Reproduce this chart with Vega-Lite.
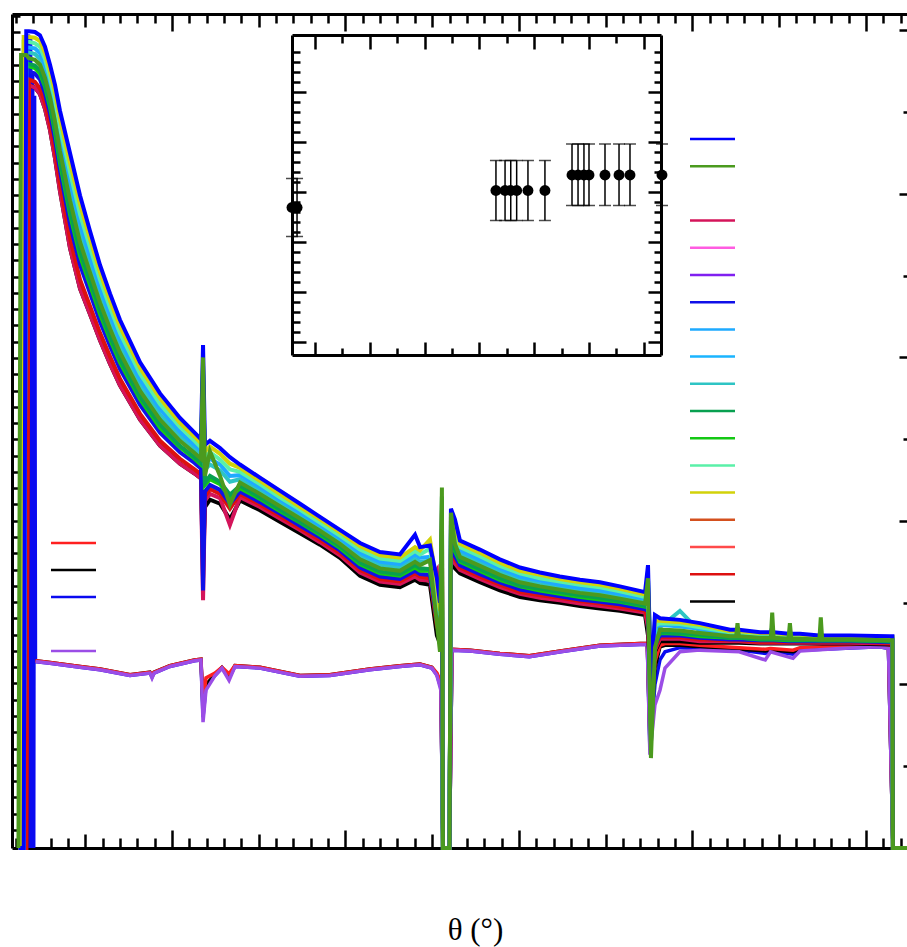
{
  "$schema": "https://vega.github.io/schema/vega-lite/v6.json",
  "width": 895,
  "height": 834,
  "autosize": "none",
  "padding": {"left": 12, "top": 14, "right": 0, "bottom": 99},
  "background": "white",
  "config": {
    "view": {"stroke": null},
    "axis": {"labels": false, "grid": false, "domainColor": "#000000", "domainWidth": 3, "tickColor": "#000000", "tickWidth": 2.5}
  },
  "datasets": {
    "main": [
      {"t":1.15,"c01":0,"c13":0,"c12":0,"c07":0,"c09":0,"c02":0,"c10":0,"c11":0,"c06":0,"c16":0,"c03":0,"c17":0},
      {"t":1.30,"c01":0,"c13":0,"c12":0,"c07":0,"c09":0,"c02":9.70,"c10":0,"c11":0,"c06":0,"c16":0,"c03":0,"c17":0},
      {"t":1.45,"c01":0,"c13":9.92,"c12":9.86,"c07":0,"c09":0,"c02":9.70,"c10":9.59,"c11":9.56,"c06":0,"c16":0,"c03":0,"c17":0},
      {"t":1.60,"c01":9.99,"c13":9.92,"c12":9.86,"c07":9.79,"c09":9.73,"c02":9.70,"c10":9.59,"c11":9.56,"c06":9.50,"c16":0,"c03":0,"c17":0},
      {"t":1.75,"c01":9.99,"c13":9.92,"c12":9.86,"c07":9.79,"c09":9.73,"c02":9.66,"c10":9.59,"c11":9.56,"c06":9.50,"c16":9.40,"c03":9.33,"c17":9.33},
      {"t":2.10,"c01":9.98,"c13":9.91,"c12":9.84,"c07":9.78,"c09":9.71,"c02":9.64,"c10":9.57,"c11":9.54,"c06":9.47,"c16":9.37,"c03":9.30,"c17":9.30},
      {"t":2.39,"c01":9.94,"c13":9.87,"c12":9.80,"c07":9.72,"c09":9.65,"c02":9.58,"c10":9.51,"c11":9.47,"c06":9.40,"c16":9.29,"c03":9.22,"c17":9.22},
      {"t":2.68,"c01":9.80,"c13":9.72,"c12":9.65,"c07":9.57,"c09":9.50,"c02":9.42,"c10":9.34,"c11":9.31,"c06":9.23,"c16":9.12,"c03":9.04,"c17":9.04},
      {"t":2.97,"c01":9.58,"c13":9.50,"c12":9.42,"c07":9.34,"c09":9.26,"c02":9.18,"c10":9.10,"c11":9.06,"c06":8.98,"c16":8.86,"c03":8.78,"c17":8.78},
      {"t":3.26,"c01":9.33,"c13":9.24,"c12":9.15,"c07":9.06,"c09":8.97,"c02":8.88,"c10":8.79,"c11":8.75,"c06":8.66,"c16":8.52,"c03":8.43,"c17":8.43},
      {"t":3.54,"c01":9.02,"c13":8.92,"c12":8.82,"c07":8.73,"c09":8.63,"c02":8.53,"c10":8.43,"c11":8.38,"c06":8.29,"c16":8.14,"c03":8.04,"c17":8.04},
      {"t":4.12,"c01":8.50,"c13":8.38,"c12":8.27,"c07":8.15,"c09":8.04,"c02":7.92,"c10":7.80,"c11":7.75,"c06":7.63,"c16":7.46,"c03":7.34,"c17":7.34},
      {"t":4.70,"c01":7.98,"c13":7.87,"c12":7.75,"c07":7.64,"c09":7.52,"c02":7.41,"c10":7.30,"c11":7.24,"c06":7.13,"c16":6.95,"c03":6.84,"c17":6.84},
      {"t":5.27,"c01":7.55,"c13":7.45,"c12":7.35,"c07":7.24,"c09":7.14,"c02":7.04,"c10":6.94,"c11":6.89,"c06":6.79,"c16":6.63,"c03":6.53,"c17":6.53},
      {"t":5.85,"c01":7.13,"c13":7.04,"c12":6.95,"c07":6.85,"c09":6.76,"c02":6.67,"c10":6.58,"c11":6.53,"c06":6.44,"c16":6.30,"c03":6.21,"c17":6.21},
      {"t":6.43,"c01":6.78,"c13":6.69,"c12":6.61,"c07":6.52,"c09":6.44,"c02":6.35,"c10":6.26,"c11":6.22,"c06":6.14,"c16":6.01,"c03":5.92,"c17":5.92},
      {"t":7.00,"c01":6.46,"c13":6.38,"c12":6.30,"c07":6.22,"c09":6.14,"c02":6.06,"c10":5.98,"c11":5.94,"c06":5.86,"c16":5.74,"c03":5.66,"c17":5.66},
      {"t":8.16,"c01":5.94,"c13":5.87,"c12":5.80,"c07":5.73,"c09":5.66,"c02":5.59,"c10":5.52,"c11":5.49,"c06":5.42,"c16":5.31,"c03":5.24,"c17":5.24},
      {"t":9.31,"c01":5.56,"c13":5.50,"c12":5.43,"c07":5.37,"c09":5.30,"c02":5.24,"c10":5.18,"c11":5.14,"c06":5.08,"c16":4.98,"c03":4.92,"c17":4.92},
      {"t":10.46,"c01":5.26,"c13":5.20,"c12":5.15,"c07":5.09,"c09":5.04,"c02":4.98,"c10":4.92,"c11":4.90,"c06":4.84,"c16":4.76,"c03":4.70,"c17":4.70},
      {"t":11.30,"c01":5.08,"c13":5.03,"c12":4.98,"c07":4.93,"c09":4.88,"c02":4.83,"c10":4.78,"c11":4.76,"c06":4.71,"c16":4.63,"c03":4.58,"c17":4.58},
      {"t":11.67,"c01":5.00,"c13":4.95,"c12":4.90,"c07":4.86,"c09":4.81,"c02":4.76,"c10":4.71,"c11":4.69,"c06":4.64,"c16":4.57,"c03":4.52,"c17":4.52},
      {"t":11.79,"c01":6.15,"c13":5.60,"c12":5.50,"c07":5.80,"c09":5.30,"c02":6.00,"c10":5.40,"c11":5.90,"c06":3.15,"c16":3.30,"c03":3.03,"c17":3.60},
      {"t":11.90,"c01":4.93,"c13":4.85,"c12":4.78,"c07":4.70,"c09":4.63,"c02":4.55,"c10":4.47,"c11":4.44,"c06":4.36,"c16":4.30,"c03":4.25,"c17":4.17},
      {"t":12.19,"c01":4.98,"c13":4.91,"c12":4.84,"c07":4.76,"c09":4.69,"c02":4.85,"c10":4.55,"c11":4.51,"c06":4.44,"c16":4.39,"c03":4.33,"c17":4.26},
      {"t":12.77,"c01":4.89,"c13":4.82,"c12":4.75,"c07":4.69,"c09":4.62,"c02":4.55,"c10":4.48,"c11":4.45,"c06":4.38,"c16":4.33,"c03":4.28,"c17":4.21},
      {"t":13.34,"c01":4.78,"c13":4.70,"c12":4.63,"c07":4.55,"c09":4.48,"c02":4.20,"c10":4.32,"c11":4.29,"c06":4.21,"c16":4.15,"c03":3.95,"c17":4.02},
      {"t":13.92,"c01":4.69,"c13":4.65,"c12":4.60,"c07":4.56,"c09":4.51,"c02":4.47,"c10":4.43,"c11":4.40,"c06":4.36,"c16":4.33,"c03":4.29,"c17":4.25},
      {"t":15.07,"c01":4.53,"c13":4.49,"c12":4.45,"c07":4.41,"c09":4.37,"c02":4.33,"c10":4.29,"c11":4.27,"c06":4.23,"c16":4.20,"c03":4.17,"c17":4.13},
      {"t":16.22,"c01":4.37,"c13":4.33,"c12":4.29,"c07":4.26,"c09":4.22,"c02":4.18,"c10":4.14,"c11":4.12,"c06":4.09,"c16":4.06,"c03":4.03,"c17":3.99},
      {"t":17.38,"c01":4.21,"c13":4.17,"c12":4.14,"c07":4.10,"c09":4.07,"c02":4.03,"c10":3.99,"c11":3.98,"c06":3.94,"c16":3.91,"c03":3.89,"c17":3.85},
      {"t":18.53,"c01":4.05,"c13":4.02,"c12":3.98,"c07":3.95,"c09":3.91,"c02":3.88,"c10":3.85,"c11":3.83,"c06":3.80,"c16":3.77,"c03":3.74,"c17":3.71},
      {"t":19.68,"c01":3.89,"c13":3.86,"c12":3.82,"c07":3.79,"c09":3.75,"c02":3.72,"c10":3.69,"c11":3.67,"c06":3.64,"c16":3.61,"c03":3.58,"c17":3.55},
      {"t":20.84,"c01":3.73,"c13":3.69,"c12":3.65,"c07":3.61,"c09":3.57,"c02":3.53,"c10":3.49,"c11":3.47,"c06":3.43,"c16":3.40,"c03":3.37,"c17":3.33},
      {"t":21.99,"c01":3.62,"c13":3.58,"c12":3.54,"c07":3.50,"c09":3.46,"c02":3.42,"c10":3.38,"c11":3.36,"c06":3.32,"c16":3.29,"c03":3.26,"c17":3.22},
      {"t":23.14,"c01":3.59,"c13":3.55,"c12":3.51,"c07":3.47,"c09":3.43,"c02":3.39,"c10":3.35,"c11":3.33,"c06":3.29,"c16":3.26,"c03":3.23,"c17":3.19},
      {"t":24.01,"c01":3.83,"c13":3.68,"c12":3.63,"c07":3.59,"c09":3.54,"c02":3.50,"c10":3.46,"c11":3.43,"c06":3.39,"c16":3.36,"c03":3.32,"c17":3.28},
      {"t":24.30,"c01":3.68,"c13":3.64,"c12":3.59,"c07":3.55,"c09":3.50,"c02":3.46,"c10":3.42,"c11":3.39,"c06":3.35,"c16":3.32,"c03":3.28,"c17":3.24},
      {"t":24.87,"c01":3.70,"c13":3.77,"c12":3.66,"c07":3.56,"c09":3.51,"c02":3.52,"c10":3.41,"c11":3.39,"c06":3.34,"c16":3.30,"c03":3.27,"c17":3.22},
      {"t":25.27,"c01":3.30,"c13":3.23,"c12":3.16,"c07":3.09,"c09":3.02,"c02":2.75,"c10":2.88,"c11":2.85,"c06":2.78,"c16":2.72,"c03":3.40,"c17":2.60},
      {"t":25.45,"c01":3.00,"c13":2.90,"c12":2.85,"c07":2.80,"c09":2.78,"c02":2.40,"c10":2.70,"c11":2.55,"c06":2.65,"c16":2.60,"c03":2.55,"c17":2.50},
      {"t":25.56,"c01":3.30,"c13":3.35,"c12":3.40,"c07":3.30,"c09":3.35,"c02":4.41,"c10":4.30,"c11":3.60,"c06":3.20,"c16":3.90,"c03":4.13,"c17":2.80},
      {"t":25.62,"c01":0,"c13":0,"c12":0,"c07":0,"c09":0,"c02":0,"c10":0,"c11":0,"c06":0,"c16":0,"c03":0,"c17":0},
      {"t":26.00,"c01":0,"c13":0,"c12":0,"c07":0,"c09":0,"c02":0,"c10":0,"c11":0,"c06":0,"c16":0,"c03":0,"c17":0},
      {"t":26.08,"c01":4.15,"c13":4.05,"c12":4.00,"c07":3.95,"c09":3.90,"c02":4.10,"c10":3.85,"c11":3.80,"c06":3.70,"c16":3.65,"c03":3.60,"c17":3.50},
      {"t":26.31,"c01":4.02,"c13":3.96,"c12":3.90,"c07":3.84,"c09":3.78,"c02":3.72,"c10":3.66,"c11":3.63,"c06":3.57,"c16":3.53,"c03":3.48,"c17":3.42},
      {"t":26.60,"c01":3.76,"c13":3.72,"c12":3.68,"c07":3.64,"c09":3.60,"c02":3.56,"c10":3.52,"c11":3.50,"c06":3.46,"c16":3.43,"c03":3.40,"c17":3.36},
      {"t":27.75,"c01":3.65,"c13":3.61,"c12":3.57,"c07":3.53,"c09":3.49,"c02":3.45,"c10":3.41,"c11":3.39,"c06":3.35,"c16":3.32,"c03":3.29,"c17":3.25},
      {"t":28.90,"c01":3.53,"c13":3.49,"c12":3.45,"c07":3.42,"c09":3.38,"c02":3.34,"c10":3.30,"c11":3.28,"c06":3.25,"c16":3.22,"c03":3.19,"c17":3.15},
      {"t":30.06,"c01":3.43,"c13":3.39,"c12":3.36,"c07":3.32,"c09":3.29,"c02":3.25,"c10":3.21,"c11":3.20,"c06":3.16,"c16":3.13,"c03":3.11,"c17":3.07},
      {"t":31.21,"c01":3.37,"c13":3.34,"c12":3.30,"c07":3.27,"c09":3.23,"c02":3.20,"c10":3.17,"c11":3.15,"c06":3.12,"c16":3.09,"c03":3.06,"c17":3.03},
      {"t":32.36,"c01":3.32,"c13":3.29,"c12":3.26,"c07":3.22,"c09":3.19,"c02":3.16,"c10":3.13,"c11":3.11,"c06":3.08,"c16":3.06,"c03":3.03,"c17":3.00},
      {"t":33.52,"c01":3.28,"c13":3.25,"c12":3.22,"c07":3.18,"c09":3.15,"c02":3.12,"c10":3.09,"c11":3.07,"c06":3.04,"c16":3.02,"c03":2.99,"c17":2.96},
      {"t":34.67,"c01":3.25,"c13":3.22,"c12":3.19,"c07":3.15,"c09":3.12,"c02":3.09,"c10":3.06,"c11":3.04,"c06":3.01,"c16":2.99,"c03":2.96,"c17":2.93},
      {"t":35.82,"c01":3.20,"c13":3.17,"c12":3.14,"c07":3.11,"c09":3.08,"c02":3.05,"c10":3.02,"c11":3.01,"c06":2.98,"c16":2.95,"c03":2.93,"c17":2.90},
      {"t":37.27,"c01":3.13,"c13":3.10,"c12":3.07,"c07":3.05,"c09":3.02,"c02":2.99,"c10":2.96,"c11":2.95,"c06":2.92,"c16":2.90,"c03":2.88,"c17":2.85},
      {"t":37.44,"c01":3.46,"c13":3.20,"c12":3.15,"c07":3.30,"c09":3.10,"c02":3.30,"c10":3.20,"c11":3.10,"c06":2.90,"c16":2.80,"c03":2.70,"c17":2.60},
      {"t":37.61,"c01":2.00,"c13":2.20,"c12":2.25,"c07":2.10,"c09":2.20,"c02":1.10,"c10":1.30,"c11":1.50,"c06":1.80,"c16":2.00,"c03":1.90,"c17":2.00},
      {"t":37.84,"c01":2.85,"c13":2.78,"c12":2.72,"c07":2.68,"c09":2.64,"c02":2.45,"c10":2.55,"c11":2.52,"c06":2.48,"c16":2.45,"c03":2.42,"c17":2.40},
      {"t":38.13,"c01":2.81,"c13":2.78,"c12":2.75,"c07":2.73,"c09":2.70,"c02":2.67,"c10":2.64,"c11":2.63,"c06":2.60,"c16":2.58,"c03":2.56,"c17":2.53},
      {"t":39.28,"c01":2.79,"c13":2.76,"c12":2.74,"c07":2.71,"c09":2.90,"c02":2.66,"c10":2.63,"c11":2.62,"c06":2.60,"c16":2.58,"c03":2.56,"c17":2.53},
      {"t":40.43,"c01":2.75,"c13":2.73,"c12":2.70,"c07":2.68,"c09":2.65,"c02":2.63,"c10":2.61,"c11":2.59,"c06":2.57,"c16":2.55,"c03":2.53,"c17":2.51},
      {"t":42.17,"c01":2.67,"c13":2.65,"c12":2.64,"c07":2.62,"c09":2.61,"c02":2.59,"c10":2.57,"c11":2.57,"c06":2.55,"c16":2.54,"c03":2.53,"c17":2.51},
      {"t":42.52,"c01":2.67,"c13":2.65,"c12":2.64,"c07":2.62,"c09":2.61,"c02":2.59,"c10":2.57,"c11":2.57,"c06":2.55,"c16":2.54,"c03":2.53,"c17":2.51},
      {"t":42.60,"c01":2.67,"c13":2.65,"c12":2.64,"c07":2.62,"c09":2.61,"c02":2.75,"c10":2.57,"c11":2.57,"c06":2.55,"c16":2.54,"c03":2.53,"c17":2.51},
      {"t":42.68,"c01":2.67,"c13":2.65,"c12":2.64,"c07":2.62,"c09":2.61,"c02":2.59,"c10":2.57,"c11":2.57,"c06":2.55,"c16":2.54,"c03":2.53,"c17":2.51},
      {"t":43.90,"c01":2.64,"c13":2.63,"c12":2.61,"c07":2.60,"c09":2.58,"c02":2.57,"c10":2.56,"c11":2.55,"c06":2.54,"c16":2.52,"c03":2.51,"c17":2.50},
      {"t":44.52,"c01":2.64,"c13":2.63,"c12":2.61,"c07":2.60,"c09":2.58,"c02":2.57,"c10":2.56,"c11":2.55,"c06":2.54,"c16":2.52,"c03":2.51,"c17":2.50},
      {"t":44.60,"c01":2.70,"c13":2.63,"c12":2.61,"c07":2.60,"c09":2.58,"c02":2.88,"c10":2.56,"c11":2.55,"c06":2.54,"c16":2.52,"c03":2.51,"c17":2.50},
      {"t":44.68,"c01":2.64,"c13":2.63,"c12":2.61,"c07":2.60,"c09":2.58,"c02":2.57,"c10":2.56,"c11":2.55,"c06":2.54,"c16":2.52,"c03":2.51,"c17":2.50},
      {"t":45.54,"c01":2.62,"c13":2.61,"c12":2.60,"c07":2.58,"c09":2.57,"c02":2.56,"c10":2.55,"c11":2.54,"c06":2.53,"c16":2.52,"c03":2.51,"c17":2.50},
      {"t":45.62,"c01":2.62,"c13":2.61,"c12":2.60,"c07":2.58,"c09":2.57,"c02":2.75,"c10":2.55,"c11":2.54,"c06":2.53,"c16":2.52,"c03":2.51,"c17":2.50},
      {"t":45.70,"c01":2.62,"c13":2.61,"c12":2.60,"c07":2.58,"c09":2.57,"c02":2.56,"c10":2.55,"c11":2.54,"c06":2.53,"c16":2.52,"c03":2.51,"c17":2.50},
      {"t":46.20,"c01":2.62,"c13":2.61,"c12":2.60,"c07":2.58,"c09":2.57,"c02":2.56,"c10":2.55,"c11":2.54,"c06":2.53,"c16":2.52,"c03":2.51,"c17":2.50},
      {"t":47.32,"c01":2.60,"c13":2.59,"c12":2.58,"c07":2.57,"c09":2.56,"c02":2.55,"c10":2.54,"c11":2.54,"c06":2.53,"c16":2.52,"c03":2.51,"c17":2.50},
      {"t":47.40,"c01":2.60,"c13":2.59,"c12":2.58,"c07":2.57,"c09":2.56,"c02":2.82,"c10":2.54,"c11":2.54,"c06":2.53,"c16":2.52,"c03":2.51,"c17":2.50},
      {"t":47.48,"c01":2.60,"c13":2.59,"c12":2.58,"c07":2.57,"c09":2.56,"c02":2.55,"c10":2.54,"c11":2.54,"c06":2.53,"c16":2.52,"c03":2.51,"c17":2.50},
      {"t":49.08,"c01":2.60,"c13":2.59,"c12":2.58,"c07":2.57,"c09":2.56,"c02":2.55,"c10":2.54,"c11":2.54,"c06":2.53,"c16":2.52,"c03":2.51,"c17":2.50},
      {"t":51.38,"c01":2.59,"c13":2.58,"c12":2.57,"c07":2.56,"c09":2.55,"c02":2.54,"c10":2.53,"c11":2.53,"c06":2.52,"c16":2.51,"c03":2.50,"c17":2.49},
      {"t":51.53,"c01":2.59,"c13":2.58,"c12":2.57,"c07":2.56,"c09":2.55,"c02":2.54,"c10":2.53,"c11":2.53,"c06":2.52,"c16":2.51,"c03":2.50,"c17":2.49},
      {"t":51.56,"c01":0,"c13":0,"c12":0,"c07":0,"c09":0,"c02":0,"c10":0,"c11":0,"c06":0,"c16":0,"c03":0,"c17":0},
      {"t":52.37,"c01":0,"c13":0,"c12":0,"c07":0,"c09":0,"c02":0,"c10":0,"c11":0,"c06":0,"c16":0,"c03":0,"c17":0}
    ],
    "lower": [
      {"t":1.70,"d1":null,"d2":null,"d3":0,"d4":null},
      {"t":1.73,"d1":null,"d2":null,"d3":9.95,"d4":null},
      {"t":1.79,"d1":null,"d2":null,"d3":0,"d4":null},
      {"t":1.85,"d1":null,"d2":null,"d3":9.90,"d4":null},
      {"t":1.91,"d1":null,"d2":null,"d3":0,"d4":null},
      {"t":1.97,"d1":null,"d2":null,"d3":9.50,"d4":null},
      {"t":2.03,"d1":null,"d2":null,"d3":0,"d4":null},
      {"t":2.08,"d1":null,"d2":null,"d3":9.20,"d4":null},
      {"t":2.13,"d1":2.29,"d2":2.29,"d3":2.28,"d4":2.28},
      {"t":2.97,"d1":2.27,"d2":2.27,"d3":2.26,"d4":2.26},
      {"t":4.70,"d1":2.22,"d2":2.22,"d3":2.21,"d4":2.21},
      {"t":5.85,"d1":2.19,"d2":2.19,"d3":2.18,"d4":2.18},
      {"t":7.58,"d1":2.12,"d2":2.12,"d3":2.11,"d4":2.11},
      {"t":8.73,"d1":2.15,"d2":2.15,"d3":2.14,"d4":2.14},
      {"t":8.85,"d1":2.13,"d2":2.10,"d3":2.09,"d4":2.08},
      {"t":8.97,"d1":2.15,"d2":2.15,"d3":2.14,"d4":2.14},
      {"t":9.88,"d1":2.23,"d2":2.23,"d3":2.22,"d4":2.22},
      {"t":11.30,"d1":2.30,"d2":2.30,"d3":2.29,"d4":2.29},
      {"t":11.67,"d1":2.31,"d2":2.31,"d3":2.30,"d4":2.30},
      {"t":11.79,"d1":1.78,"d2":1.70,"d3":1.60,"d4":1.54},
      {"t":11.96,"d1":2.08,"d2":2.00,"d3":1.98,"d4":1.93},
      {"t":12.48,"d1":2.14,"d2":2.12,"d3":2.11,"d4":2.11},
      {"t":12.88,"d1":2.21,"d2":2.21,"d3":2.20,"d4":2.20},
      {"t":13.29,"d1":2.13,"d2":2.10,"d3":2.08,"d4":2.05},
      {"t":13.63,"d1":2.23,"d2":2.23,"d3":2.22,"d4":2.22},
      {"t":15.07,"d1":2.21,"d2":2.21,"d3":2.20,"d4":2.20},
      {"t":17.38,"d1":2.11,"d2":2.11,"d3":2.10,"d4":2.10},
      {"t":19.10,"d1":2.12,"d2":2.12,"d3":2.11,"d4":2.11},
      {"t":21.40,"d1":2.19,"d2":2.19,"d3":2.18,"d4":2.18},
      {"t":23.14,"d1":2.23,"d2":2.23,"d3":2.22,"d4":2.22},
      {"t":24.29,"d1":2.25,"d2":2.25,"d3":2.24,"d4":2.24},
      {"t":24.98,"d1":2.21,"d2":2.21,"d3":2.20,"d4":2.20},
      {"t":25.27,"d1":2.14,"d2":2.13,"d3":2.12,"d4":2.11},
      {"t":25.50,"d1":2.03,"d2":2.00,"d3":1.96,"d4":1.93},
      {"t":25.62,"d1":0,"d2":0,"d3":0,"d4":0},
      {"t":26.00,"d1":0,"d2":0,"d3":0,"d4":0},
      {"t":26.14,"d1":2.43,"d2":2.43,"d3":2.42,"d4":2.42},
      {"t":27.20,"d1":2.42,"d2":2.42,"d3":2.41,"d4":2.41},
      {"t":28.90,"d1":2.38,"d2":2.38,"d3":2.37,"d4":2.37},
      {"t":30.60,"d1":2.35,"d2":2.35,"d3":2.34,"d4":2.34},
      {"t":32.40,"d1":2.41,"d2":2.41,"d3":2.40,"d4":2.40},
      {"t":34.67,"d1":2.48,"d2":2.48,"d3":2.47,"d4":2.47},
      {"t":37.00,"d1":2.50,"d2":2.50,"d3":2.49,"d4":2.49},
      {"t":37.40,"d1":2.50,"d2":2.50,"d3":2.49,"d4":2.49},
      {"t":37.55,"d1":1.38,"d2":1.30,"d3":1.20,"d4":1.14},
      {"t":37.84,"d1":2.28,"d2":2.20,"d3":2.00,"d4":1.75},
      {"t":38.13,"d1":2.48,"d2":2.46,"d3":2.30,"d4":1.93},
      {"t":38.42,"d1":2.50,"d2":2.48,"d3":2.40,"d4":2.20},
      {"t":39.28,"d1":2.50,"d2":2.48,"d3":2.45,"d4":2.40},
      {"t":40.43,"d1":2.48,"d2":2.46,"d3":2.44,"d4":2.42},
      {"t":42.70,"d1":2.45,"d2":2.43,"d3":2.42,"d4":2.40},
      {"t":44.20,"d1":2.43,"d2":2.41,"d3":2.38,"d4":2.30},
      {"t":44.50,"d1":2.44,"d2":2.42,"d3":2.41,"d4":2.40},
      {"t":45.80,"d1":2.42,"d2":2.40,"d3":2.37,"d4":2.32},
      {"t":46.20,"d1":2.45,"d2":2.43,"d3":2.42,"d4":2.41},
      {"t":48.50,"d1":2.47,"d2":2.45,"d3":2.44,"d4":2.44},
      {"t":50.80,"d1":2.48,"d2":2.47,"d3":2.46,"d4":2.46},
      {"t":51.30,"d1":2.47,"d2":2.45,"d3":2.44,"d4":2.44},
      {"t":51.56,"d1":0,"d2":0,"d3":0,"d4":0},
      {"t":52.37,"d1":0,"d2":0,"d3":0,"d4":0}
    ],
    "inset": [
      {"x":79.0,"y":2.69,"lo":2.11,"hi":3.27},
      {"x":83.6,"y":2.69,"lo":2.11,"hi":3.27},
      {"x":265.1,"y":3.03,"lo":2.43,"hi":3.63},
      {"x":273.4,"y":3.03,"lo":2.43,"hi":3.63},
      {"x":278.6,"y":3.03,"lo":2.43,"hi":3.63},
      {"x":284.0,"y":3.03,"lo":2.43,"hi":3.63},
      {"x":294.3,"y":3.03,"lo":2.43,"hi":3.63},
      {"x":309.8,"y":3.03,"lo":2.43,"hi":3.63},
      {"x":334.5,"y":3.34,"lo":2.73,"hi":3.96},
      {"x":340.0,"y":3.34,"lo":2.73,"hi":3.96},
      {"x":345.4,"y":3.34,"lo":2.73,"hi":3.96},
      {"x":350.0,"y":3.34,"lo":2.73,"hi":3.96},
      {"x":364.6,"y":3.34,"lo":2.73,"hi":3.96},
      {"x":377.4,"y":3.34,"lo":2.73,"hi":3.96},
      {"x":387.4,"y":3.34,"lo":2.73,"hi":3.96},
      {"x":416.6,"y":3.34,"lo":2.73,"hi":3.96}
    ]
  },
  "layer": [
    {
      "data": {"name": "lower"},
      "transform": [{"fold": ["d3", "d2", "d1", "d4"], "as": ["series", "v"]}],
      "mark": {"type": "line", "strokeWidth": 3.5},
      "encoding": {
        "x": {"field": "t", "type": "quantitative", "scale": {"domain": [0.778, 52.37], "nice": false, "zero": false},
          "axis": {"orient": "top", "title": null, "values": [1,2,3,4,5,6,7,8,9,10,11,12,13,14,15,16,17,18,19,20,21,22,23,24,25,26,27,28,29,30,31,32,33,34,35,36,37,38,39,40,41,42,43,44,45,46,47,48,49,50,51,52],
            "tickSize": -17,
            "tickDash": {"condition": [{"test": "datum.value % 10 === 0", "value": [17, 40]}, {"test": "datum.value % 5 === 0", "value": [13, 40]}], "value": [9, 40]}}},
        "y": {"field": "v", "type": "quantitative", "scale": {"domain": [0, 10.2], "nice": false, "zero": false},
          "axis": {"orient": "right", "title": null, "domain": false, "values": [1,2,3,4,5,6,7,8,9,10], "tickSize": -8,
            "tickDash": {"condition": {"test": "datum.value % 2 === 0", "value": [8, 40]}, "value": [4, 40]}}},
        "color": {"field": "series", "type": "nominal",
          "scale": {"domain": ["d1", "d2", "d3", "b2", "d4"], "range": ["#ff2020", "#000000", "#0a0af0", "#ffffff", "#9b4de6"]},
          "legend": {"orient": "none", "legendX": 37.5, "legendY": 515.85, "title": null, "padding": 0, "symbolType": "stroke", "symbolSize": 2025, "symbolStrokeWidth": 2.5, "clipHeight": 26.3, "rowPadding": 0, "labelExpr": "''", "labelFontSize": 10}}
      }
    },
    {
      "data": {"name": "main"},
      "transform": [{"fold": ["c17", "c03", "c16", "c06", "c11", "c10", "c09", "c07", "c12", "c13", "c01", "c02"], "as": ["series", "v"]}],
      "mark": {"type": "line", "strokeWidth": 4},
      "encoding": {
        "x": {"field": "t", "type": "quantitative", "scale": {"domain": [0.778, 52.37], "nice": false, "zero": false},
          "axis": {"orient": "bottom", "values": [1,2,3,4,5,6,7,8,9,10,11,12,13,14,15,16,17,18,19,20,21,22,23,24,25,26,27,28,29,30,31,32,33,34,35,36,37,38,39,40,41,42,43,44,45,46,47,48,49,50,51,52],
            "tickSize": -18,
            "tickDash": {"condition": [{"test": "datum.value % 10 === 0", "value": [18, 40]}, {"test": "datum.value % 5 === 0", "value": [14, 40]}], "value": [10, 40]},
            "title": "θ (°)", "titleFont": "Liberation Serif", "titleFontSize": 31, "titleFontWeight": "normal", "titleColor": "#000000", "titleX": 463, "titleY": 91, "titleBaseline": "alphabetic", "titleAlign": "center"}},
        "y": {"field": "v", "type": "quantitative", "scale": {"domain": [0, 10.2], "nice": false, "zero": false},
          "axis": {"orient": "left", "title": null, "tickSize": -8,
            "values": [0.220,0.419,0.618,0.817,1.016,1.215,1.415,1.614,1.813,2.012,2.211,2.410,2.609,2.808,3.007,3.206,3.405,3.604,3.804,4.003,4.202,4.401,4.600,4.799,4.998,5.197,5.396,5.595,5.794,5.994,6.193,6.392,6.591,6.790,6.989,7.188,7.387,7.586,7.785,7.985,8.184,8.383,8.582,8.781,8.980,9.179,9.378,9.577,9.776,9.975,10.175]}},
        "color": {"field": "series", "type": "nominal",
          "scale": {"domain": ["c01", "c02", "b1", "c03", "c04", "c05", "c06", "c07", "c08", "c09", "c10", "c11", "c12", "c13", "c14", "c15", "c16", "c17"],
            "range": ["#0000ff", "#4b9a1e", "#ffffff", "#d4145a", "#ff5ce1", "#8020f0", "#1010e8", "#1eaaff", "#1ab4ff", "#2ec4c4", "#08a050", "#14c814", "#5af0a8", "#d2d20a", "#d4501e", "#ff4a4a", "#dd1010", "#000000"]},
          "legend": {"orient": "none", "legendX": 676.5, "legendY": 111.85, "title": null, "padding": 0, "symbolType": "stroke", "symbolSize": 2025, "symbolStrokeWidth": 2.5, "clipHeight": 26.3, "rowPadding": 0.2, "labelExpr": "''", "labelFontSize": 10, "symbolLimit": 0}}
      }
    },
    {
      "data": {"name": "inset"},
      "mark": {"type": "errorbar", "color": "#000000", "ticks": {"size": 12, "thickness": 1.5, "color": "#000000"}, "rule": {"strokeWidth": 1.5, "color": "#000000"}},
      "encoding": {
        "x": {"field": "x", "type": "quantitative", "scale": {"domain": [79, 415.7], "range": [280, 649], "nice": false, "zero": false},
          "axis": {"orient": "bottom", "title": null, "offset": -493, "values": [100,125,150,175,200,225,250,275,300,325,350,375,400], "tickSize": -13,
            "tickDash": {"condition": {"test": "datum.value % 50 === 0", "value": [13, 40]}, "value": [7, 40]}}},
        "y": {"field": "lo", "type": "quantitative", "title": null, "scale": {"domain": [-0.26, 6.14], "range": [341, 21], "nice": false, "zero": false},
          "axis": {"orient": "left", "title": null, "offset": -280, "values": [0,0.2,0.4,0.6,0.8,1,1.2,1.4,1.6,1.8,2,2.2,2.4,2.6,2.8,3,3.2,3.4,3.6,3.8,4,4.2,4.4,4.6,4.8,5,5.2,5.4,5.6,5.8], "tickSize": -14,
            "tickDash": {"condition": {"test": "abs(datum.value - round(datum.value)) < 0.01", "value": [14, 40]}, "value": [8, 40]}}},
        "y2": {"field": "hi"}
      }
    },
    {
      "data": {"name": "inset"},
      "mark": {"type": "circle", "size": 120, "color": "#000000", "opacity": 1},
      "encoding": {
        "x": {"field": "x", "type": "quantitative", "scale": {"domain": [79, 415.7], "range": [280, 649], "nice": false, "zero": false},
          "axis": {"orient": "top", "title": null, "offset": -21, "values": [100,125,150,175,200,225,250,275,300,325,350,375,400], "tickSize": -14,
            "tickDash": {"condition": {"test": "datum.value % 50 === 0", "value": [14, 40]}, "value": [8, 40]}}},
        "y": {"field": "y", "type": "quantitative", "scale": {"domain": [-0.26, 6.14], "range": [341, 21], "nice": false, "zero": false},
          "axis": {"orient": "right", "title": null, "offset": -246, "values": [0,0.2,0.4,0.6,0.8,1,1.2,1.4,1.6,1.8,2,2.2,2.4,2.6,2.8,3,3.2,3.4,3.6,3.8,4,4.2,4.4,4.6,4.8,5,5.2,5.4,5.6,5.8], "tickSize": -13,
            "tickDash": {"condition": {"test": "abs(datum.value - round(datum.value)) < 0.01", "value": [13, 40]}, "value": [7, 40]}}}
      }
    }
  ],
  "resolve": {
    "scale": {"x": "independent", "y": "independent", "color": "independent"},
    "axis": {"x": "independent", "y": "independent"}
  }
}
